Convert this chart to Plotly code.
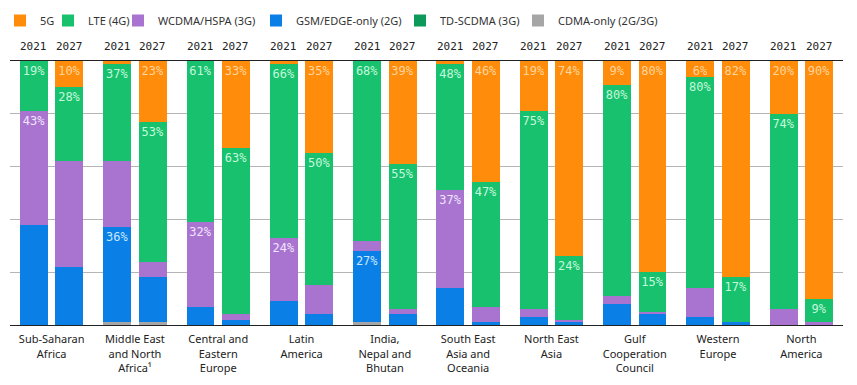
import plotly.graph_objects as go

regions = ["Sub-Saharan<br>Africa", "Middle East<br>and North<br>Africa¹", "Central and<br>Eastern<br>Europe",
           "Latin<br>America", "India,<br>Nepal and<br>Bhutan", "South East<br>Asia and<br>Oceania",
           "North East<br>Asia", "Gulf<br>Cooperation<br>Council", "Western<br>Europe", "North<br>America"]
years = ["2021", "2027"]

# values in % (2021, 2027) per region
g5_2021 = [0, 1, 0, 1, 0, 1, 19, 9, 6, 20]
g5_2027 = [10, 23, 33, 35, 39, 46, 74, 80, 82, 90]
lte_2021 = [19, 37, 61, 66, 68, 48, 75, 80, 80, 74]
lte_2027 = [28, 53, 63, 50, 55, 47, 24, 15, 17, 9]
wcdma_2021 = [43, 25, 32, 24, 4, 37, 3, 3, 11, 6]
wcdma_2027 = [40, 6, 2, 11, 2, 6, 1, 1, 0, 1]
gsm_2021 = [38, 36, 7, 9, 27, 14, 3, 8, 3, 0]
gsm_2027 = [22, 17, 2, 4, 4, 1, 1, 4, 1, 0]
td_2021 = [0] * 10
td_2027 = [0] * 10
cdma_2021 = [0, 1, 0, 0, 1, 0, 0, 0, 0, 0]
cdma_2027 = [0, 1, 0, 0, 0, 0, 0, 0, 0, 0]

# which segments carry a value label
lbl_g5_2021 = [0, 0, 0, 0, 0, 0, 1, 1, 1, 1]
lbl_g5_2027 = [1] * 10
lbl_lte_2021 = [1] * 10
lbl_lte_2027 = [1] * 10
lbl_wcdma_2021 = [1, 0, 1, 1, 0, 1, 0, 0, 0, 0]
lbl_wcdma_2027 = [0] * 10
lbl_gsm_2021 = [0, 1, 0, 0, 1, 0, 0, 0, 0, 0]
lbl_gsm_2027 = [0] * 10

n = len(regions)
offset = 0.213
xs = []
for i in range(n):
    xs += [i - offset, i + offset]


def interleave(a, b):
    out = []
    for u, v in zip(a, b):
        out += [u, v]
    return out


def labels(vals, flags):
    return [f"{v}%" if f else "" for v, f in zip(vals, flags)]


# (name, 2021, 2027, label flags 2021, label flags 2027, colour, text colour, legend id, legend x px)
series = [
    ("CDMA-only (2G/3G)", cdma_2021, cdma_2027, [0] * 10, [0] * 10, "#a6a6a6", "#ffffff", "legend6", 518),
    ("TD-SCDMA (3G)", td_2021, td_2027, [0] * 10, [0] * 10, "#0c9a5a", "#ffffff", "legend5", 400),
    ("GSM/EDGE-only (2G)", gsm_2021, gsm_2027, lbl_gsm_2021, lbl_gsm_2027, "#0a7fe6", "#c8e8ff", "legend4", 256),
    ("WCDMA/HSPA (3G)", wcdma_2021, wcdma_2027, lbl_wcdma_2021, lbl_wcdma_2027, "#a874d0", "#f2e4ff", "legend3", 118),
    ("LTE (4G)", lte_2021, lte_2027, lbl_lte_2021, lbl_lte_2027, "#17c16d", "#c6f7dc", "legend2", 48),
    ("5G", g5_2021, g5_2027, lbl_g5_2021, lbl_g5_2027, "#ff8c0a", "#ffd59e", "legend", 0),
]

W, H = 857, 385
fig = go.Figure()
legend_layout = {}
for name, a, b, fa, fb, color, tcolor, lg, lx in series:
    vals = interleave(a, b)
    txt = interleave(labels(a, fa), labels(b, fb))
    fig.add_trace(go.Bar(
        name=name, x=xs, y=vals, width=0.335, legend=lg,
        marker=dict(color=color, line=dict(width=0)),
        text=txt, textposition="inside", insidetextanchor="end", textangle=0,
        textfont=dict(family="DejaVu Sans Mono", size=12, color=tcolor),
        constraintext="none", hoverinfo="skip",
    ))
    legend_layout[lg] = dict(orientation="h", xref="container", yref="container",
                             x=lx / W, y=1 - 6 / H, xanchor="left", yanchor="top",
                             bgcolor="rgba(0,0,0,0)",
                             font=dict(family="Noto Sans", size=11, color="#333"))

for i in range(n):
    for j, yr in enumerate(years):
        fig.add_annotation(x=i + (-offset if j == 0 else offset), y=1, xref="x", yref="paper",
                           text=yr, showarrow=False, yanchor="middle", yshift=15,
                           font=dict(family="DejaVu Sans Mono", size=11, color="#222"))

fig.update_layout(
    barmode="stack",
    width=W, height=H,
    margin=dict(l=10, r=14, t=61, b=60, autoexpand=False),
    paper_bgcolor="white", plot_bgcolor="white",
    showlegend=True,
    font=dict(family="Noto Sans", size=11, color="#222"),
    **legend_layout,
)
fig.update_xaxes(range=[-0.5, n - 0.5], tickvals=list(range(n)), ticktext=regions,
                 showgrid=False, showline=True, mirror=True, linecolor="#222", linewidth=1,
                 ticks="", ticklabelstandoff=4,
                 tickfont=dict(family="Noto Sans", size=11, color="#222"), zeroline=False)
fig.update_yaxes(range=[0, 100], dtick=20, showgrid=True, gridcolor="#b5b5b5", gridwidth=1,
                 showticklabels=False, zeroline=False, showline=False)

fig.write_html("out.html", config={"displayModeBar": False},
               post_script="document.body.style.margin='0px';")
